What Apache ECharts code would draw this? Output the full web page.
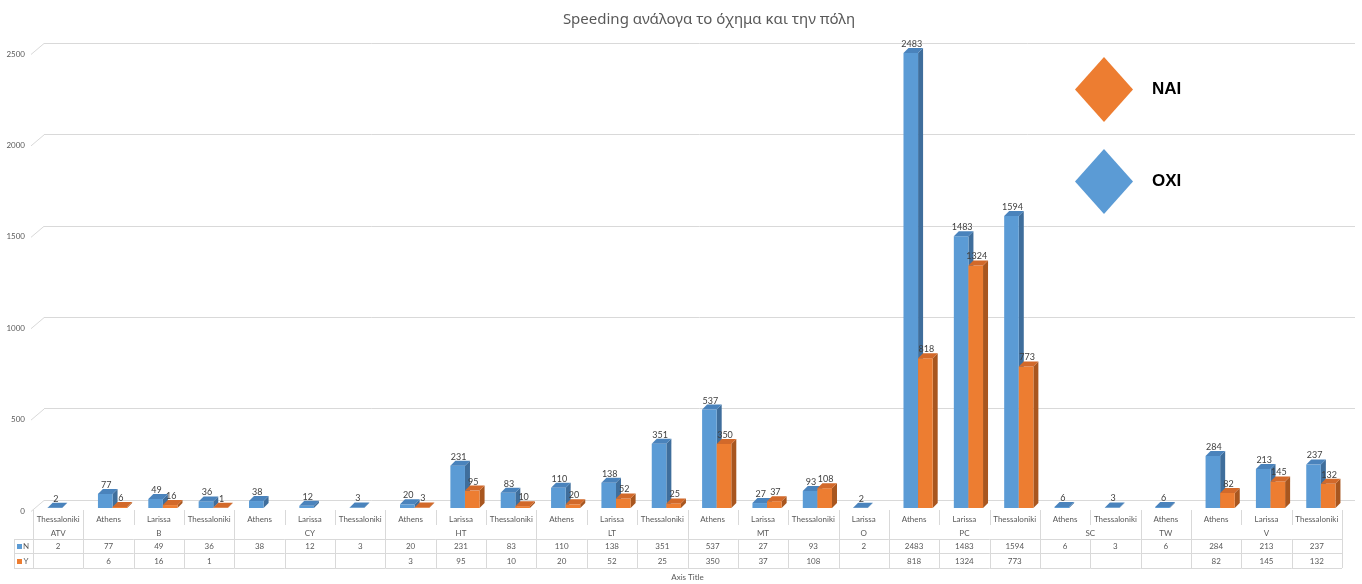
<!DOCTYPE html>
<html>
<head>
<meta charset="utf-8">
<script src="https://cdn.jsdelivr.net/npm/echarts@6/dist/echarts.min.js"></script>
<style>
  html, body { margin: 0; padding: 0; background: #ffffff; }
  #chart { width: 1362px; height: 584px; }
</style>
</head>
<body>
<div id="chart"></div>
<script>
// Vehicle type / city breakdown of speeding records
const cities = ['Thessaloniki',
  'Athens', 'Larissa', 'Thessaloniki',
  'Athens', 'Larissa', 'Thessaloniki',
  'Athens', 'Larissa', 'Thessaloniki',
  'Athens', 'Larissa', 'Thessaloniki',
  'Athens', 'Larissa', 'Thessaloniki',
  'Larissa',
  'Athens', 'Larissa', 'Thessaloniki',
  'Athens', 'Thessaloniki',
  'Athens',
  'Athens', 'Larissa', 'Thessaloniki'];
const groupNames = ['ATV', 'B', 'CY', 'HT', 'LT', 'MT', 'O', 'PC', 'SC', 'TW', 'V'];
const groupSizes = [1, 3, 3, 3, 3, 3, 1, 3, 2, 1, 3];
const valuesN = [2, 77, 49, 36, 38, 12, 3, 20, 231, 83, 110, 138, 351, 537, 27, 93, 2, 2483, 1483, 1594, 6, 3, 6, 284, 213, 237];
const valuesY = [null, 6, 16, 1, null, null, null, 3, 95, 10, 20, 52, 25, 350, 37, 108, null, 818, 1324, 773, null, null, null, 82, 145, 132];
const yTicks = [0, 500, 1000, 1500, 2000, 2500];

const BLUE = { front: '#5B9BD5', side: '#3F6E9C', top: '#4A83BC' };
const ORANGE = { front: '#ED7D31', side: '#A8561F', top: '#D2692A' };
const GRID_LINE = '#D9D9D9';
const TEXT = '#595959';
const SMALL_FONT = '8px Lato, "Liberation Sans", sans-serif';

// 3D-looking column: front face, right side face and top face
function bar3d(slot, colors) {
  return function (params, api) {
    const v = api.value(1);
    if (v == null || isNaN(v)) return;
    const i = api.value(0);
    const base = api.coord([i, 0]);
    const top = api.coord([i, v]);
    const band = api.size([1, 0])[0];
    const w = band * 0.29;
    const x0 = base[0] - band * 0.21 + slot * w;
    const x1 = x0 + w;
    const yb = base[1];
    const yt = top[1];
    const d = 5;
    return {
      type: 'group',
      children: [
        { type: 'polygon', shape: { points: [[x1, yt], [x1 + d, yt - d], [x1 + d, yb - d], [x1, yb]] }, style: { fill: colors.side } },
        { type: 'rect', shape: { x: x0, y: yt, width: w, height: yb - yt }, style: { fill: colors.front } },
        { type: 'polygon', shape: { points: [[x0, yt], [x1, yt], [x1 + d, yt - d], [x0 + d, yt - d]] }, style: { fill: colors.top } },
        { type: 'text', style: { x: x0 + w / 2 + 1, y: yt - 9, text: String(v), fill: '#404040', font: '9px Lato, "Liberation Sans", sans-serif', align: 'center', verticalAlign: 'middle' } }
      ]
    };
  };
}

function hline(x1, x2, y) {
  return { type: 'line', shape: { x1: x1, y1: Math.round(y) + 0.5, x2: x2, y2: Math.round(y) + 0.5 }, style: { stroke: GRID_LINE, lineWidth: 1 } };
}
function vline(x, y1, y2) {
  return { type: 'line', shape: { x1: Math.round(x) + 0.5, y1: y1, x2: Math.round(x) + 0.5, y2: y2 }, style: { stroke: GRID_LINE, lineWidth: 1 } };
}
function txt(x, y, s, extra) {
  return { type: 'text', style: Object.assign({ x: x, y: y, text: s, fill: TEXT, font: SMALL_FONT, align: 'center', verticalAlign: 'middle' }, extra || {}) };
}

// data table under the plot: city row, N row, Y row
function tableCell(params, api) {
  const i = api.value(0);
  const cs = params.coordSys;
  const band = api.size([1, 0])[0];
  const cx = api.coord([i, 0])[0];
  const xl = cx - band / 2;
  const xr = cx + band / 2;
  const base = cs.y + cs.height;
  const rowN = base + 31, rowY = base + 45, rowEnd = base + 60;
  const ch = [
    vline(xl, base + 2, base + 17),
    vline(xl, rowN, rowEnd),
    hline(xl, xr, rowN), hline(xl, xr, rowY), hline(xl, xr, rowEnd),
    txt(cx, base + 11, cities[i]),
    txt(cx, base + 38, valuesN[i] == null ? '' : String(valuesN[i])),
    txt(cx, base + 53, valuesY[i] == null ? '' : String(valuesY[i]))
  ];
  if (i === cities.length - 1) {
    ch.push(vline(xr, base + 2, base + 31), vline(xr, rowN, rowEnd));
  }
  if (i === 0) {
    const kx = xl - 19;
    ch.push(
      hline(kx, xl, rowN), hline(kx, xl, rowY), hline(kx, xl, rowEnd),
      vline(kx, rowN, rowEnd),
      { type: 'rect', shape: { x: kx + 3, y: base + 36, width: 5, height: 5 }, style: { fill: BLUE.front } },
      { type: 'rect', shape: { x: kx + 3, y: base + 51, width: 5, height: 5 }, style: { fill: ORANGE.front } },
      txt(kx + 12, base + 38, 'N', { align: 'center' }),
      txt(kx + 12, base + 53, 'Y', { align: 'center' }),
      txt(cs.x + cs.width / 2, base + 69, 'Axis Title')
    );
  }
  return { type: 'group', children: ch };
}

// vehicle-type row of the table
const groupData = [];
(function () {
  let s = 0;
  groupNames.forEach(function (g, k) {
    groupData.push([s, s + groupSizes[k] - 1, k]);
    s += groupSizes[k];
  });
})();
function groupCell(params, api) {
  const cs = params.coordSys;
  const band = api.size([1, 0])[0];
  const xl = api.coord([api.value(0), 0])[0] - band / 2;
  const xr = api.coord([api.value(1), 0])[0] + band / 2;
  const base = cs.y + cs.height;
  return {
    type: 'group',
    children: [
      vline(xl, base + 17, base + 31),
      txt((xl + xr) / 2, base + 25, groupNames[api.value(2)])
    ]
  };
}

// slanted connectors from the value labels to the back wall grid lines
function tickSlant(params, api) {
  const p = api.coord([0, api.value(1)]);
  return { type: 'line', shape: { x1: p[0] - 2, y1: p[1] + 0.5, x2: p[0] + 11, y2: p[1] - 10.5 }, style: { stroke: GRID_LINE, lineWidth: 1 } };
}

const chart = echarts.init(document.getElementById('chart'), null, { renderer: 'canvas' });
chart.setOption({
  animation: false,
  backgroundColor: '#ffffff',
  title: {
    text: 'Speeding ανάλογα το όχημα και την πόλη',
    left: 704, top: 7, textAlign: 'center',
    textStyle: { fontFamily: '"Noto Sans", sans-serif', fontSize: 15, fontWeight: 'normal', color: TEXT }
  },
  legend: {
    data: ['NAI', 'OXI'],
    orient: 'vertical', left: 1070, top: 52,
    itemWidth: 58, itemHeight: 65, itemGap: 27,
    icon: 'diamond', selectedMode: false,
    textStyle: { fontFamily: '"Liberation Sans", sans-serif', fontSize: 17, fontWeight: 'bold', color: '#000', padding: [0, 0, 0, 14] }
  },
  grid: [
    { left: 33, width: 1309, top: 50, height: 458 },   // columns and table
    { left: 44, right: 7, top: 43, height: 457 },     // back wall
    { left: 33, width: 10, top: 54, height: 457 }     // front value scale
  ],
  xAxis: [
    { gridIndex: 0, type: 'category', data: cities, show: false },
    { gridIndex: 1, type: 'value', min: 0, max: 1, show: false },
    { gridIndex: 2, type: 'value', min: 0, max: 1, show: false }
  ],
  yAxis: [
    { gridIndex: 0, type: 'value', min: 0, max: 2500, show: false },
    { gridIndex: 1, type: 'value', min: 0, max: 2500, interval: 500,
      axisLine: { show: false }, axisTick: { show: false }, axisLabel: { show: false },
      splitLine: { show: true, lineStyle: { color: GRID_LINE, width: 1 } } },
    { gridIndex: 2, type: 'value', min: 0, max: 2500, interval: 500,
      axisLine: { show: false }, axisTick: { show: false }, splitLine: { show: false },
      axisLabel: { margin: 8, fontSize: 8, color: TEXT, fontFamily: 'Lato, "Liberation Sans", sans-serif',
        formatter: function (v) { return String(v); } } }
  ],
  series: [
    { name: 'OXI', type: 'custom', xAxisIndex: 0, yAxisIndex: 0, itemStyle: { color: BLUE.front },
      renderItem: bar3d(0, BLUE), data: valuesN.map(function (v, i) { return [i, v == null ? NaN : v]; }) },
    { name: 'NAI', type: 'custom', xAxisIndex: 0, yAxisIndex: 0, itemStyle: { color: ORANGE.front },
      renderItem: bar3d(1, ORANGE), data: valuesY.map(function (v, i) { return [i, v == null ? NaN : v]; }) },
    { name: 'table', type: 'custom', xAxisIndex: 0, yAxisIndex: 0, renderItem: tableCell,
      data: cities.map(function (c, i) { return [i]; }), silent: true },
    { name: 'groups', type: 'custom', xAxisIndex: 0, yAxisIndex: 0, renderItem: groupCell,
      data: groupData, silent: true },
    { name: 'ticks', type: 'custom', xAxisIndex: 2, yAxisIndex: 2, renderItem: tickSlant,
      data: yTicks.map(function (v) { return [0, v]; }), silent: true }
  ]
});
</script>
</body>
</html>
